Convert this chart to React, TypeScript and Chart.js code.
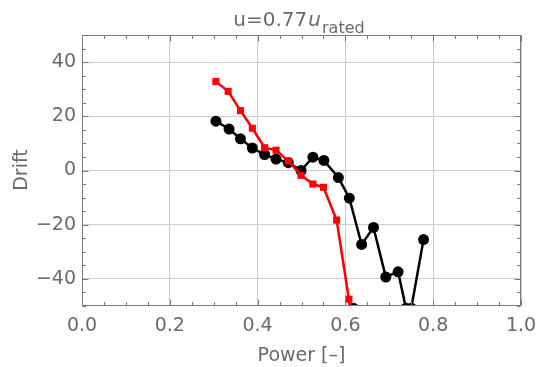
import React, { useEffect, useRef } from 'react';
import { Chart, registerables } from 'chart.js';
Chart.register(...registerables);

// ---- data ----
const blackX = [0.305, 0.335, 0.361, 0.388, 0.416, 0.442, 0.470, 0.499, 0.526, 0.551, 0.584, 0.609, 0.637, 0.664, 0.692, 0.720, 0.738, 0.750, 0.778];
const blackY = [18.2, 15.3, 11.7, 8.3, 5.9, 4.2, 2.9, 0.0, 4.9, 3.7, -2.6, -10.2, -27.3, -21.0, -39.3, -37.4, -50.8, -50.8, -25.5];
const redX = [0.305, 0.333, 0.361, 0.388, 0.416, 0.442, 0.470, 0.499, 0.526, 0.550, 0.580, 0.608, 0.636];
const redY = [32.8, 29.2, 22.1, 15.6, 8.4, 7.5, 3.5, -1.8, -5.0, -6.2, -18.3, -47.5, -80.0];
const extraX = [0.618];
const extraY = [-50.8];

const xTicks = [0, 0.2, 0.4, 0.6, 0.8, 1.0];
const yTicks = [-40, -20, 0, 20, 40];
const titleMain = 'u=0.77';
const titleItalic = 'u';
const titleSub = 'rated';
const xTitle = 'Power [\u2013]';
const yTitle = 'Drift';

const FONT = '"DejaVu Sans", "Liberation Sans", sans-serif';
const TEXT = '#6a6a6a';
const FRAME = '#7a7a7a';

const toPts = (xs: number[], ys: number[]) => xs.map((x, i) => ({ x, y: ys[i] }));

const decor = {
  id: 'decor',
  afterDraw(chart: any) {
    const { ctx, chartArea: a, scales } = chart;
    const xs = scales.x, ys = scales.y;
    ctx.save();
    // frame
    ctx.strokeStyle = FRAME;
    ctx.lineWidth = 1;
    const L = Math.round(a.left) + 0.5, R = Math.round(a.right) - 0.5;
    const T = Math.round(a.top) + 0.5, B = Math.round(a.bottom) - 0.5;
    ctx.beginPath();
    ctx.rect(L, T, R - L, B - T);
    ctx.stroke();
    // ticks (inward), major + minor
    ctx.beginPath();
    for (let i = 0; i <= 20; i++) {
      const v = i * 0.05;
      const major = i % 4 === 0;
      const len = major ? 6 : 3.5;
      const px = Math.round(xs.getPixelForValue(v)) + 0.5;
      ctx.moveTo(px, B); ctx.lineTo(px, B - len);
      ctx.moveTo(px, T); ctx.lineTo(px, T + len);
    }
    for (let v = -50; v <= 50; v += 5) {
      const major = v % 20 === 0 && Math.abs(v) <= 40;
      const len = major ? 6 : 3.5;
      const py = Math.round(ys.getPixelForValue(v)) + 0.5;
      ctx.moveTo(L, py); ctx.lineTo(L + len, py);
      ctx.moveTo(R, py); ctx.lineTo(R - len, py);
    }
    ctx.stroke();

    // title
    ctx.fillStyle = TEXT;
    ctx.textBaseline = 'alphabetic';
    ctx.textAlign = 'left';
    const fMain = `20px ${FONT}`;
    const fIt = `italic 20px ${FONT}`;
    const fSub = `16px ${FONT}`;
    ctx.font = fMain; const w1 = ctx.measureText(titleMain).width;
    ctx.font = fIt; const w2 = ctx.measureText(titleItalic).width + 2;
    ctx.font = fSub; const w3 = ctx.measureText(titleSub).width;
    let tx = 299 - (w1 + w2 + w3) / 2;
    ctx.font = fMain; ctx.fillText(titleMain, tx, 26);
    tx += w1;
    ctx.font = fIt; ctx.fillText(titleItalic, tx + 1, 26);
    tx += w2;
    ctx.font = fSub; ctx.fillText(titleSub, tx, 33);

    // axis titles
    ctx.font = `19px ${FONT}`;
    ctx.textAlign = 'center';
    ctx.fillText(xTitle, (a.left + a.right) / 2, 361);
    ctx.save();
    ctx.translate(27, 170);
    ctx.rotate(-Math.PI / 2);
    ctx.fillText(yTitle, 0, 0);
    ctx.restore();
    ctx.restore();
  },
};

export default function App() {
  const ref = useRef<HTMLCanvasElement>(null);
  useEffect(() => {
    if (!ref.current) return;
    const chart = new Chart(ref.current, {
      type: 'line',
      data: {
        datasets: [
          {
            label: 'red',
            data: toPts(redX, redY),
            borderColor: '#ff0000',
            backgroundColor: '#ff0000',
            borderWidth: 2.5,
            pointStyle: 'rect',
            pointRadius: 5,
            pointBorderWidth: 0,
            tension: 0,
            clip: 0,
          },
          {
            label: 'black',
            data: toPts(blackX, blackY),
            borderColor: '#000000',
            backgroundColor: '#000000',
            borderWidth: 2.5,
            pointStyle: 'circle',
            pointRadius: 5.5,
            pointBorderWidth: 0,
            tension: 0,
            clip: 0,
          },
          {
            label: 'extra',
            data: toPts(extraX, extraY),
            borderColor: '#000000',
            backgroundColor: '#000000',
            showLine: false,
            pointStyle: 'circle',
            pointRadius: 5.5,
            pointBorderWidth: 0,
            clip: 0,
          },
        ],
      },
      options: {
        animation: false,
        responsive: false,
        devicePixelRatio: 1,
        layout: { padding: { top: 35, right: 15, left: 0, bottom: 0 } },
        plugins: { legend: { display: false }, tooltip: { enabled: false }, title: { display: false } },
        scales: {
          x: {
            type: 'linear',
            min: 0,
            max: 1,
            afterBuildTicks: (s: any) => { s.ticks = xTicks.map((v) => ({ value: v })); },
            afterFit: (s: any) => { s.height = 61; s.paddingLeft = 0; s.paddingRight = 0; },
            grid: { color: '#cccccc', lineWidth: 1, drawTicks: false },
            border: { display: false },
            ticks: {
              padding: 9,
              color: TEXT,
              font: { family: FONT, size: 19 },
              maxRotation: 0,
              callback: (v: any) => Number(v).toFixed(1),
            },
          },
          y: {
            type: 'linear',
            min: -50,
            max: 50,
            afterBuildTicks: (s: any) => { s.ticks = yTicks.map((v) => ({ value: v })); },
            afterFit: (s: any) => { s.width = 82; s.paddingTop = 0; s.paddingBottom = 0; },
            grid: { color: '#cccccc', lineWidth: 1, drawTicks: false },
            border: { display: false },
            ticks: {
              padding: 6,
              color: TEXT,
              font: { family: FONT, size: 19 },
              callback: (v: any) => (Number(v) < 0 ? '\u2212' + Math.abs(Number(v)) : String(v)),
            },
          },
        },
      },
      plugins: [decor],
    });
    return () => chart.destroy();
  }, []);
  return (
    <div style={{ position: 'absolute', left: 0, top: 0, width: 536, height: 367, background: '#fff' }}>
      <canvas ref={ref} width={536} height={367} style={{ display: 'block' }} />
    </div>
  );
}
